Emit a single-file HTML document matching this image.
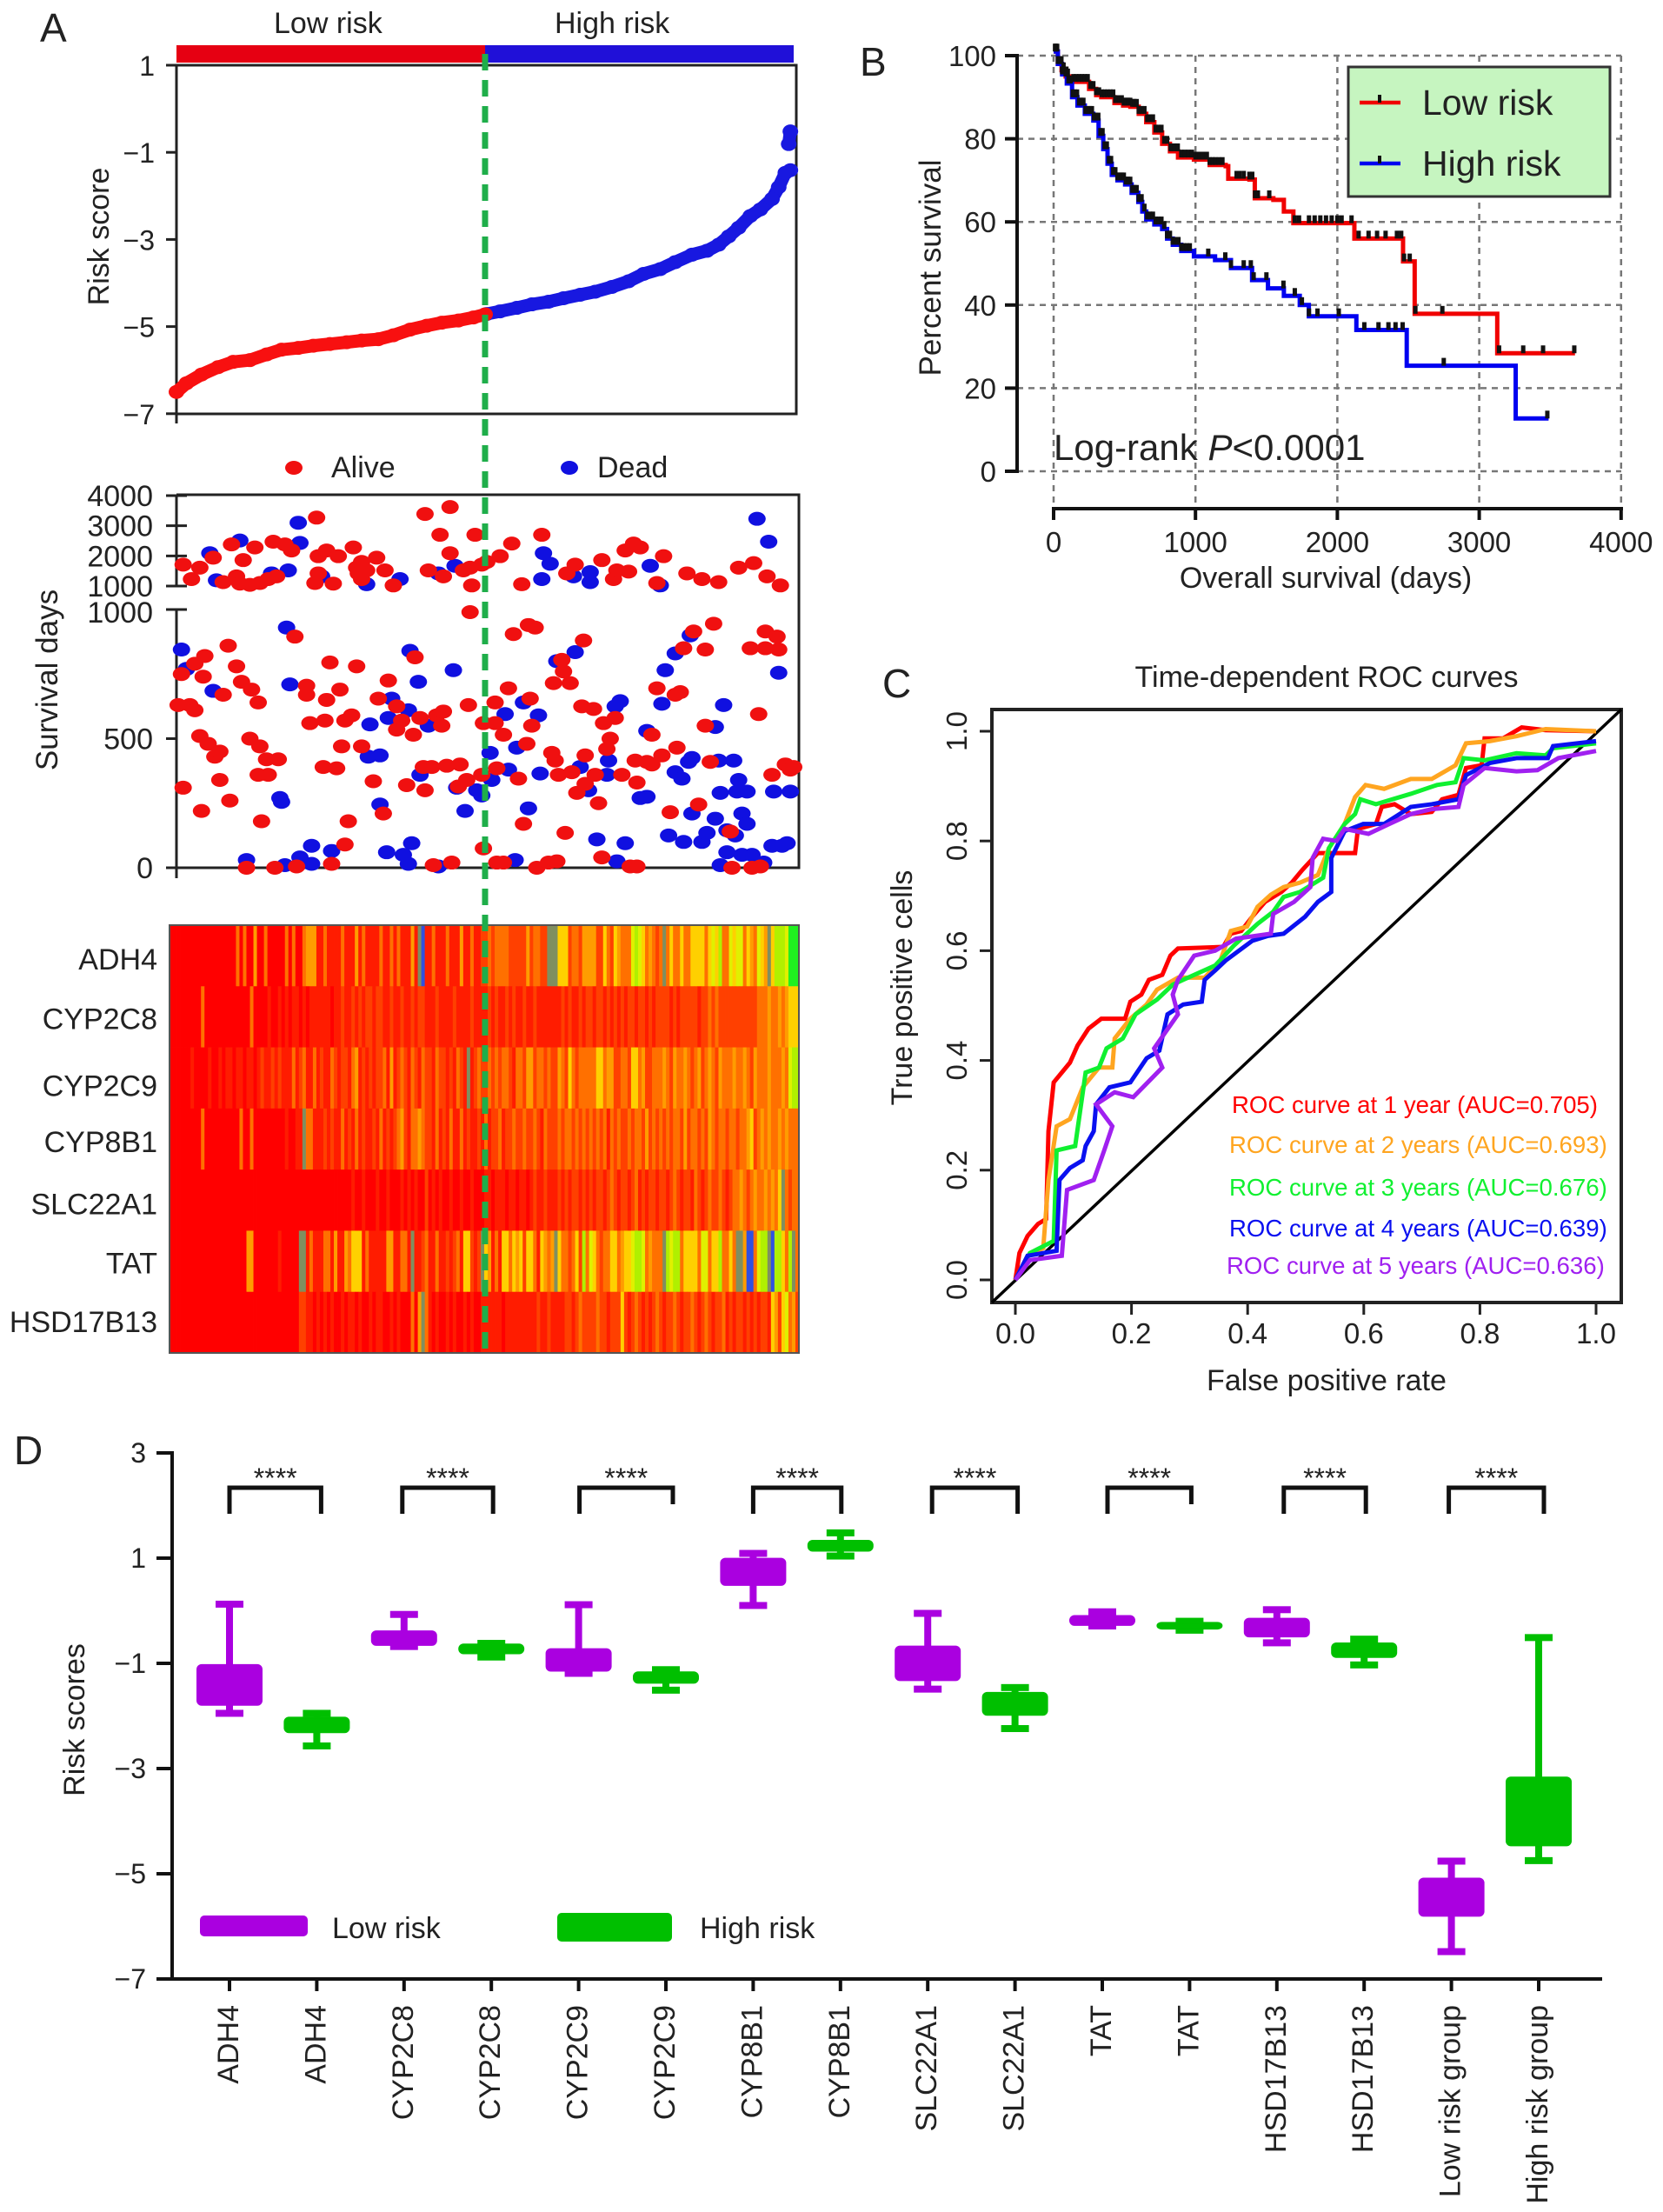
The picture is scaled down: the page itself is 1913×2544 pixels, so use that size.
<!DOCTYPE html>
<html lang="en">
<head>
<meta charset="utf-8">
<title>Risk model figure</title>
<style>
html,body{margin:0;padding:0;background:#fff;}
svg{display:block;}
text{font-family:"Liberation Sans",sans-serif;fill:#222;}
</style>
</head>
<body>
<svg id="figure" xmlns="http://www.w3.org/2000/svg" width="1913" height="2544" viewBox="0 0 1913 2544">
<rect x="0" y="0" width="1913" height="2544" fill="#fff"/>
<g id="panelA">
<text x="46" y="48" font-size="46">A</text>
<text x="315" y="38" font-size="34">Low risk</text>
<text x="638" y="38" font-size="34">High risk</text>
<rect x="203" y="52" width="355" height="20" fill="#e60012"/>
<rect x="558" y="52" width="355" height="20" fill="#2010d8"/>
<text transform="translate(125 272) rotate(-90)" text-anchor="middle" font-size="34">Risk score</text>
<text transform="translate(66 782) rotate(-90)" text-anchor="middle" font-size="35">Survival days</text>
<ellipse cx="338" cy="538" rx="10" ry="8" fill="#f01010"/>
<text x="381" y="549" font-size="34">Alive</text>
<ellipse cx="655" cy="538" rx="10" ry="8" fill="#1010e0"/>
<text x="687" y="549" font-size="34">Dead</text>
</g>
<g id="panelB">
<text x="989" y="87" font-size="46">B</text>
<text transform="translate(1082 308) rotate(-90)" text-anchor="middle" font-size="35">Percent survival</text>
<text x="1525" y="676" text-anchor="middle" font-size="34">Overall survival (days)</text>
</g>
<g id="panelC">
<text x="1015" y="802" font-size="46">C</text>
<text x="1526" y="790" text-anchor="middle" font-size="34">Time-dependent ROC curves</text>
<text x="1526" y="1599" text-anchor="middle" font-size="34">False positive rate</text>
<text transform="translate(1049 1136) rotate(-90)" text-anchor="middle" font-size="34">True positive cells</text>
</g>
<g id="panelD">
<text x="16" y="1684" font-size="46">D</text>
<text transform="translate(97 1978) rotate(-90)" text-anchor="middle" font-size="34">Risk scores</text>
<rect x="230" y="2203" width="124" height="24" rx="5" fill="#aa00e0"/>
<text x="382" y="2229" font-size="34">Low risk</text>
<rect x="641" y="2200" width="132" height="33" rx="5" fill="#00bf00"/>
<text x="805" y="2229" font-size="34">High risk</text>
</g>
</svg>
<script>
/* ---------- Panel A data ---------- */
const lowRiskRanks=[0,6,15,25,34,44,54,63,73,82,92,102,111,121,130,140,150,159,169,178,185];
const lowRiskScores=[-6.5,-6.3,-6.1,-5.93,-5.81,-5.77,-5.64,-5.53,-5.49,-5.44,-5.4,-5.36,-5.32,-5.29,-5.2,-5.07,-4.98,-4.91,-4.86,-4.79,-4.72];
const highRiskRanks=[186,194,204,213,223,232,242,251,261,271,280,290,299,309,318,325,331,337,344,350,357,361,365,368,367,368];
const highRiskScores=[-4.71,-4.65,-4.57,-4.49,-4.43,-4.35,-4.27,-4.2,-4.09,-3.96,-3.79,-3.68,-3.52,-3.35,-3.26,-3.12,-2.93,-2.73,-2.46,-2.31,-2.07,-1.8,-1.47,-1.41,-0.81,-0.52];
const riskTicks=[1,-1,-3,-5,-7];
const upperDayTicks=[4000,3000,2000,1000];
const lowerDayTicks=[1000,500,0];
const aliveRanks=[4,9,14,22,28,33,36,40,47,38,44,50,55,60,58,65,69,83,85,84,85,90,97,94,106,108,111,109,114,111,120,125,130,149,151,158,160,164,164,172,176,179,177,183,186,194,201,207,219,234,239,255,262,264,271,269,274,278,288,292,306,315,325,337,346,354,362,
1,3,4,11,8,11,17,16,14,19,15,23,26,26,28,31,32,36,39,44,45,49,50,49,55,51,54,61,71,78,78,80,88,89,90,92,96,98,99,101,105,108,111,118,121,127,132,132,135,138,142,143,146,149,148,153,156,160,159,162,170,169,175,174,176,183,184,191,191,196,192,199,202,205,208,210,211,215,213,212,226,225,227,229,231,232,236,233,237,240,243,244,245,245,250,251,253,256,260,258,263,267,276,275,282,285,285,288,291,296,299,302,300,304,310,313,317,317,320,322,332,349,344,353,353,360,361,357,365,368,370,
42,59,72,93,101,103,124,154,165,184,192,196,216,223,228,255,272,276,333,345,350];
const aliveDays=[1710,1230,1610,1940,1130,2380,1320,1860,2280,1080,1040,1100,1230,1320,2470,2380,2180,1100,1420,3270,1990,2180,1990,1080,2280,1610,1800,1420,1520,1230,1940,1520,1020,3390,1520,2700,1320,3620,2090,1520,1610,2700,1020,1710,1800,1990,2410,1060,2700,1420,1710,1860,1230,1520,1480,2180,2410,2280,1100,1990,1420,1230,1130,1610,1760,1320,1020,
630,750,310,790,630,610,820,740,510,480,220,430,450,340,670,860,260,780,720,500,690,640,470,360,360,180,420,420,895,705,670,560,390,570,650,795,385,690,470,570,590,780,470,335,655,725,625,535,570,320,515,815,580,300,390,390,590,605,550,395,400,315,630,340,990,360,560,640,560,515,385,695,905,345,170,480,940,930,550,655,715,445,415,360,805,760,715,135,370,290,625,880,435,325,615,360,250,560,500,460,580,360,330,415,410,515,400,695,435,215,670,680,465,850,915,245,845,550,410,945,140,595,850,850,915,895,845,360,400,380,390,
0,0,5,15,90,180,210,10,20,75,20,20,0,20,25,40,5,5,0,0,5];
const deadRanks=[20,24,38,57,67,73,74,87,114,134,157,167,220,224,219,238,248,248,284,290,348,355,
3,6,22,42,62,63,65,66,68,74,81,81,93,116,115,122,122,126,127,129,136,139,141,140,145,139,146,151,157,166,168,173,180,183,188,189,197,199,204,203,208,211,217,218,228,239,242,247,252,258,259,264,263,266,269,278,282,282,291,293,295,299,299,303,304,307,309,308,309,315,318,323,323,325,326,328,330,334,336,337,339,342,342,330,326,335,339,345,352,357,358,361,363,366,368];
const deadDays=[2090,1190,2510,1420,1520,3100,2430,1320,1060,1230,1420,1670,2090,1740,1230,1320,1460,1130,1670,1020,3230,2470,
845,770,685,30,270,255,10,930,710,40,15,85,65,555,430,435,245,60,580,655,50,15,95,840,720,610,360,550,5,765,310,220,300,280,445,340,595,380,465,30,640,230,590,365,800,835,390,300,110,360,415,25,625,645,95,270,530,275,635,765,125,370,830,345,100,410,425,900,210,100,135,545,190,415,290,630,145,415,295,340,210,170,295,60,10,125,50,50,20,85,295,755,85,95,295];
const heatGenes=["ADH4","CYP2C8","CYP2C9","CYP8B1","SLC22A1","TAT","HSD17B13"];
const adh4Levels=[0,0,0,0,0,0,0,0,0,0, 0,0,0,0,0,0,0,0,0,3, 0,3,0,0,4,0,0,3,0,0, 0,0,0,3,0,3,0,0,3,4, 4,4,1,1,3,1,1,1,1,3, 1,1,1,4,1,3,1,1,1,1, 3,1,1,3,1,3,1,1,1,4, 1,9,10,1,1,3,1,1,1,3, 1,1,1,4,1,1,3,1,1,2, 2,3,2,3,3,3,3,2,2,2, 2,2,4,2,3,3,2,2,9,9, 9,5,5,5,2,3,3,2,4,4, 4,4,2,2,5,3,2,5,4,3, 3,3,6,7,6,5,3,4,3,2, 3,9,3,5,3,3,5,3,3,5, 5,5,5,3,5,6,5,7,3,3, 6,5,6,6,3,5,4,3,6,5, 4,9,5,7,7,7,6,8,8,8];
const cyp2c8Levels=[0,0,0,0,0,0,0,0,0,3, 0,0,0,0,0,0,0,0,0,0, 0,0,0,3,0,0,0,0,1,0, 0,1,0,1,0,1,1,0,1,0, 1,1,1,1,1,1,0,1,1,2, 1,1,2,1,2,1,2,2,1,2, 2,1,1,2,1,1,2,1,1,2, 1,2,2,1,1,1,2,1,1,1, 1,2,1,1,1,1,2,1,1,1, 1,2,1,2,1,1,2,1,2,1, 1,2,1,1,2,1,1,1,1,1, 1,1,2,1,2,1,1,2,1,2, 2,1,2,2,1,2,1,2,1,2, 1,2,2,1,2,2,1,2,1,2, 2,2,2,1,2,1,2,2,2,2, 2,1,2,2,3,2,3,2,2,2, 2,2,2,2,2,2,2,2,3,3, 3,4,3,3,4,3,4,5,5,5];
const cyp2c9Levels=[0,0,0,0,0,0,1,0,0,0, 0,1,0,0,1,0,1,1,0,1, 1,0,1,1,0,1,2,1,1,2, 1,2,1,1,1,3,1,2,3,1, 1,3,1,2,1,1,3,2,1,2, 2,1,3,4,1,2,1,2,1,2, 2,3,1,4,1,2,3,2,1,3, 2,1,3,2,2,1,3,2,2,1, 2,1,3,2,1,9,1,2,3,2, 2,3,2,3,2,3,3,2,1,3, 3,2,4,4,2,3,3,2,3,2, 2,4,3,2,5,3,2,3,3,3, 3,3,5,5,3,4,4,2,2,3, 3,2,5,5,3,4,2,2,3,3, 3,4,3,2,4,3,3,4,3,2, 3,4,2,3,4,3,2,4,3,3, 3,4,3,3,4,3,2,4,3,3, 3,4,3,3,3,4,3,6,7,7];
const cyp8b1Levels=[0,0,0,0,0,0,0,0,0,3, 0,0,0,0,0,0,0,0,0,0, 3,0,0,3,0,0,0,0,0,0, 0,0,0,1,0,0,1,1,9,3, 3,1,1,1,2,1,2,1,1,3, 1,2,1,3,1,2,1,1,2,1, 3,1,2,1,2,3,4,2,1,3, 3,4,3,2,2,1,3,1,2,1, 3,1,1,3,1,2,1,1,2,1, 3,1,2,2,3,1,2,2,3,2, 2,3,2,2,3,2,1,3,2,2, 2,3,2,3,3,2,3,2,3,2, 3,2,3,2,3,1,3,2,3,2, 2,3,2,3,3,2,4,2,3,2, 3,2,3,2,3,3,2,4,2,3, 3,2,3,2,4,3,2,3,3,2, 3,3,2,3,3,4,5,2,3,4, 3,4,3,3,4,3,4,3,3,3];
const slc22a1Levels=[0,0,0,0,0,0,0,0,0,0, 0,0,0,0,0,0,0,0,0,0, 0,0,0,0,0,0,0,0,0,0, 0,0,0,0,0,0,0,0,0,0, 0,0,0,0,0,0,0,0,0,0, 0,0,1,0,0,1,0,0,0,1, 0,0,1,0,0,0,1,0,1,0, 1,0,0,2,0,1,0,1,0,0, 1,0,0,1,0,0,1,0,0,0, 1,1,0,1,1,1,0,1,1,0, 1,1,0,1,2,1,1,2,1,1, 1,2,1,2,1,2,2,1,2,1, 2,1,2,2,1,2,3,2,1,2, 2,1,2,3,1,2,1,2,2,1, 2,2,1,2,3,2,1,2,2,1, 3,2,1,2,3,2,2,3,2,1, 2,3,3,4,3,2,3,4,3,3, 4,3,4,3,5,9,3,2,3,3];
const tatLevels=[0,0,0,0,0,0,0,0,0,0, 0,0,0,0,0,0,0,0,0,0, 0,0,4,4,0,0,0,0,0,0, 0,1,0,0,0,0,0,9,9,1, 3,1,1,1,3,3,1,4,1,1, 4,3,5,5,5,1,3,1,1,1, 1,1,4,4,1,1,3,3,1,9, 1,1,2,3,1,1,3,1,1,2, 1,2,3,1,5,5,2,1,2,9, 5,4,1,3,1,5,5,3,5,4, 5,2,5,5,3,1,5,4,3,4, 9,5,3,3,2,3,5,2,7,3, 6,5,3,2,3,3,5,5,3,4, 5,5,6,7,7,6,3,4,3,3, 3,9,7,6,7,7,3,5,5,5, 5,3,6,6,3,5,5,7,3,3, 5,3,9,9,4,10,10,3,6,7, 7,9,10,7,7,5,3,7,9,3];
const hsd17b13Levels=[0,0,0,0,0,0,0,0,0,0, 0,0,0,0,0,0,0,0,0,0, 0,0,0,0,0,0,0,0,0,0, 0,0,0,0,0,0,0,2,2,1, 1,0,1,0,1,0,1,0,0,1, 0,1,1,0,1,0,0,1,0,1, 1,0,0,1,0,1,0,0,0,3, 0,4,9,3,1,0,1,0,0,1, 0,1,0,0,1,0,1,0,0,1, 1,1,1,1,1,0,1,1,1,1, 1,1,1,1,1,2,1,1,2,1, 1,1,1,2,2,1,2,3,2,2, 2,2,3,2,2,1,2,2,2,5, 2,1,2,3,2,1,2,1,2,3, 2,1,2,2,3,2,1,2,2,3, 2,1,2,3,2,1,2,2,3,1, 2,1,2,2,1,2,1,2,1,2, 2,1,5,4,2,5,6,3,4,2];
const heatMatrix=[adh4Levels,cyp2c8Levels,cyp2c9Levels,cyp8b1Levels,slc22a1Levels,tatLevels,hsd17b13Levels];
const heatPalette=["#ff0000","#ff1c00","#ff4000","#ff7000","#ff9c00","#ffd000","#e0f000","#b0f000","#20f020","#7f8f60","#3050e0"];

/* ---------- Panel B data ---------- */
const lowSurvDays=[0,30,56,85,112,205,250,300,336,429,490,541,600,653,710,765,820,877,989,1100,1213,1231,1380,1418,1549,1623,1690,2120,2463,2545,3127,3675];
const lowSurvPct=[101,98,96.5,95,93.7,93.7,92,90.5,90,88.6,88,87.7,86,84,81.5,78.8,77,75.5,75,73.7,73.4,70.4,70.2,65.7,65.3,62.5,59.7,56,50.5,37.9,28.4,28.4];
const highSurvDays=[0,30,60,93,130,168,220,280,317,350,380,410,450,504,550,597,625,653,710,765,800,840,900,989,1138,1250,1399,1511,1623,1735,1799,2134,2489,3257,3489];
const highSurvPct=[101,98,95.5,93.3,90,88,86,84.4,80.7,77.5,74,71.3,70,69,67,64.8,62.5,60.6,59.4,58.3,56,54.5,53,51.7,50.8,48.9,46,44,42.2,40,37.3,34,25.4,12.7,12.7];
const lowCensorDays=[10,25,40,55,70,85,100,140,160,180,200,220,240,260,280,300,320,340,360,380,400,420,435,450,465,480,495,510,525,540,555,570,585,600,620,640,660,680,700,720,740,760,780,800,825,850,875,900,925,950,975,1000,1015,1030,1045,1060,1080,1100,1120,1140,1165,1190,1290,1310,1340,1380,1400,1420,1440,1520,1700,1730,1800,1840,1880,1920,1960,2000,2030,2100,2150,2220,2280,2340,2420,2450,2470,2510,2550,2740,3140,3310,3450,3670];
const highCensorDays=[15,30,45,60,75,90,105,120,135,150,165,180,195,210,225,240,255,270,285,300,315,330,345,360,375,390,405,420,435,450,465,480,495,510,525,540,555,570,585,600,620,640,660,680,700,720,740,760,780,800,820,840,860,880,900,920,940,960,1090,1210,1250,1340,1390,1410,1500,1620,1700,1750,1800,1860,2010,2190,2290,2360,2410,2460,2750,3480];
const survXTicks=[0,1000,2000,3000,4000];
const survYTicks=[100,80,60,40,20,0];

/* ---------- Panel C data ---------- */
const rocTicks=["0.0","0.2","0.4","0.6","0.8","1.0"];
const roc1Fpr=[0,.007,.021,.039,.053,.057,.066,.08,.094,.107,.126,.148,.189,.198,.217,.23,.253,.267,.28,.358,.371,.389,.408,.43,.458,.476,.494,.521,.553,.585,.59,.621,.631,.653,.681,.717,.735,.763,.776,.803,.808,.84,.872,.913,1];
const roc1Tpr=[0,.049,.08,.102,.111,.271,.36,.378,.396,.427,.458,.476,.476,.507,.52,.547,.556,.591,.604,.607,.631,.636,.662,.689,.707,.724,.747,.778,.778,.778,.822,.831,.862,.867,.849,.853,.876,.884,.933,.938,.987,.987,1.007,1.002,1];
const roc2Fpr=[0,.021,.048,.057,.071,.094,.116,.144,.167,.171,.198,.226,.244,.28,.326,.353,.371,.399,.417,.44,.462,.49,.521,.54,.567,.585,.603,.635,.681,.717,.758,.776,.817,.863,.913,1];
const roc2Tpr=[0,.044,.058,.182,.28,.293,.351,.387,.387,.44,.476,.502,.529,.551,.551,.582,.636,.644,.68,.702,.716,.724,.738,.787,.831,.88,.902,.895,.913,.913,.938,.978,.982,.991,1.004,1];
const roc3Fpr=[0,.025,.066,.071,.103,.121,.144,.157,.185,.207,.244,.271,.289,.344,.376,.417,.444,.462,.49,.53,.54,.567,.585,.594,.621,.681,.726,.758,.772,.808,.863,.913,.926,1];
const roc3Tpr=[0,.049,.071,.236,.244,.378,.387,.422,.44,.484,.511,.538,.547,.573,.609,.649,.671,.698,.707,.733,.787,.831,.849,.876,.867,.886,.902,.907,.951,.947,.96,.956,.969,.978];
const roc4Fpr=[0,.021,.071,.076,.094,.116,.121,.135,.139,.162,.198,.226,.248,.262,.289,.321,.326,.344,.362,.385,.408,.435,.462,.499,.521,.544,.544,.567,.599,.635,.681,.717,.763,.776,.817,.863,.917,.926,1];
const roc4Tpr=[0,.044,.053,.182,.204,.218,.244,.271,.32,.351,.36,.404,.418,.484,.502,.507,.547,.564,.582,.6,.618,.627,.631,.662,.689,.707,.769,.818,.831,.831,.862,.867,.876,.92,.942,.951,.951,.973,.982];
const roc5Fpr=[0,.025,.08,.089,.135,.153,.167,.139,.171,.203,.253,.239,.28,.271,.28,.308,.344,.38,.44,.444,.48,.508,.512,.53,.553,.567,.608,.644,.681,.717,.763,.772,.808,.863,.899,.935,1];
const roc5Tpr=[0,.036,.044,.164,.182,.236,.28,.32,.342,.333,.387,.422,.484,.52,.547,.591,.6,.622,.631,.667,.689,.716,.769,.804,.8,.822,.813,.831,.849,.858,.862,.902,.933,.927,.929,.951,.964];
const rocLegendLabels=["ROC curve at 1 year (AUC=0.705)","ROC curve at 2 years (AUC=0.693)","ROC curve at 3 years (AUC=0.676)","ROC curve at 4 years (AUC=0.639)","ROC curve at 5 years (AUC=0.636)"];

/* ---------- Panel D data ---------- */
const boxCategories=["ADH4","ADH4","CYP2C8","CYP2C8","CYP2C9","CYP2C9","CYP8B1","CYP8B1","SLC22A1","SLC22A1","TAT","TAT","HSD17B13","HSD17B13","Low risk group","High risk group"];
const boxWhiskerHigh=[.125,-1.95,-.07,-.62,.115,-1.12,1.09,1.48,-.05,-1.46,-.02,-.2,.02,-.54,-4.76,-.51];
const boxQ3=[-1.03,-2.03,-.39,-.64,-.73,-1.17,.99,1.33,-.68,-1.56,-.1,-.23,-.15,-.62,-5.09,-3.17];
const boxQ1=[-1.79,-2.31,-.65,-.81,-1.14,-1.37,.49,1.14,-1.32,-1.98,-.27,-.34,-.49,-.88,-5.8,-4.46];
const boxWhiskerLow=[-1.95,-2.57,-.68,-.88,-1.19,-1.51,.1,1.04,-1.49,-2.24,-.29,-.37,-.61,-1.03,-6.48,-4.75];
const boxYTicks=[3,1,-1,-3,-5,-7];

/* ---------- helpers ---------- */
const NS="http://www.w3.org/2000/svg";
const fig=document.getElementById("figure");
function make(tag,attrs,parent){
  const el=document.createElementNS(NS,tag);
  for(const k in attrs){el.setAttribute(k,attrs[k]);}
  (parent||fig).appendChild(el);
  return el;
}
function fmt(v){return v<0?"\u2212"+Math.abs(v):String(v);}
const panelA=document.getElementById("panelA");
const panelB=document.getElementById("panelB");
const panelC=document.getElementById("panelC");
const panelD=document.getElementById("panelD");

/* ---------- Panel A ---------- */
const rankX=r=>203+r*1.919;
const riskY=v=>75+(1-v)*50.1;
const dayY=d=>d>1000?674-(d-1000)*0.03467:998-d*0.297;
const dotRed="#f01010";
const dotBlue="#1010e0";

const riskFrame=make("rect",{x:203,y:75,width:713,height:401,fill:"none",stroke:"#222","stroke-width":3},panelA);


riskTicks.forEach(v=>{
  const t=make("line",{x1:191,x2:203,y1:riskY(v),y2:riskY(v),stroke:"#222","stroke-width":3},panelA);
  
  
  const l=make("text",{x:178,y:riskY(v)+12,"text-anchor":"end","font-size":32},panelA);
  l.textContent=fmt(v);
  
  
});
const riskXTick=make("line",{x1:203,x2:203,y1:476,y2:487,stroke:"#222","stroke-width":3},panelA);



function riskSeries(ranks,scores,color,name){
  let pts=[];
  const flush=()=>{
    if(pts.length>1){
      const pl=make("polyline",{points:pts.join(" "),fill:"none",stroke:color,"stroke-width":15,"stroke-linejoin":"round","stroke-linecap":"round"},panelA);
      
      
    }
    pts=[];
  };
  ranks.forEach((r,i)=>{
    if(i>0&&scores[i]-scores[i-1]>0.4){flush();}
    pts.push(rankX(r)+","+riskY(scores[i]));
  });
  flush();
  ranks.forEach((r,i)=>{
    const d=make("ellipse",{cx:rankX(r),cy:riskY(scores[i]),rx:9,ry:8,fill:color},panelA);
    
    
  });
}
riskSeries(highRiskRanks,highRiskScores,"#1818e0","high-risk-score");
riskSeries(lowRiskRanks,lowRiskScores,"#f81010","low-risk-score");

const survFrame=make("path",{d:"M203 569H919V998H203M203 570V674M203 701V998",fill:"none",stroke:"#222","stroke-width":3},panelA);


upperDayTicks.forEach(v=>{
  const y=dayY(v===1000?1000.01:v);
  const t=make("line",{x1:191,x2:215,y1:y,y2:y,stroke:"#222","stroke-width":3},panelA);
  
  
  const l=make("text",{x:176,y:y+12,"text-anchor":"end","font-size":34},panelA);
  l.textContent=v;
  
  
});
lowerDayTicks.forEach(v=>{
  const y=dayY(v);
  const t=make("line",{x1:191,x2:v===1000?215:203,y1:y,y2:y,stroke:"#222","stroke-width":3},panelA);
  
  
  const l=make("text",{x:176,y:y+(v===1000?15:12),"text-anchor":"end","font-size":34},panelA);
  l.textContent=v;
  
  
});
const survXTickMark=make("line",{x1:203,x2:203,y1:998,y2:1010,stroke:"#222","stroke-width":3},panelA);



deadRanks.forEach((r,i)=>{
  const d=make("ellipse",{cx:rankX(r),cy:dayY(deadDays[i]),rx:10,ry:8,fill:dotBlue},panelA);
  
  
});
aliveRanks.forEach((r,i)=>{
  const d=make("ellipse",{cx:rankX(r),cy:dayY(aliveDays[i]),rx:10,ry:8,fill:dotRed},panelA);
  
  
});

const heatLeft=195,heatRight=919,heatTop=1064,heatBottom=1556;
const heatRowH=(heatBottom-heatTop)/heatGenes.length;
heatGenes.forEach((gene,row)=>{
  const levels=heatMatrix[row];
  const cw=(heatRight-heatLeft)/levels.length;
  levels.forEach((lv,c)=>{
    const cell=make("rect",{x:heatLeft+c*cw,y:heatTop+row*heatRowH,width:cw+0.4,height:heatRowH+0.4,fill:heatPalette[lv]},panelA);
    
    
  });
  const lab=make("text",{x:181,y:heatTop+row*heatRowH+heatRowH/2+[4,2,9,3,4,2,-1][row]+12,"text-anchor":"end","font-size":34},panelA);
  lab.textContent=gene;
  
  
});
const heatFrame=make("rect",{x:heatLeft,y:heatTop,width:heatRight-heatLeft,height:heatBottom-heatTop,fill:"none",stroke:"#555","stroke-width":2},panelA);



const cutoff=make("line",{x1:558,x2:558,y1:62,y2:1556,stroke:"#1fae4a","stroke-width":7,"stroke-dasharray":"19 11"},panelA);



/* ---------- Panel B ---------- */
const survX=d=>1212+d*0.1632;
const survY=p=>542-p*4.78;
survYTicks.forEach(v=>{
  const g=make("line",{x1:1170,x2:1865,y1:survY(v),y2:survY(v),stroke:"#777","stroke-width":2.5,"stroke-dasharray":"7 6"},panelB);
  
  
  const t=make("line",{x1:1156,x2:1170,y1:survY(v),y2:survY(v),stroke:"#111","stroke-width":4},panelB);
  
  
  const l=make("text",{x:1146,y:survY(v)+12,"text-anchor":"end","font-size":33},panelB);
  l.textContent=v;
  
  
});
survXTicks.forEach(v=>{
  const g=make("line",{x1:survX(v),x2:survX(v),y1:64,y2:585,stroke:"#777","stroke-width":2.5,"stroke-dasharray":"7 6"},panelB);
  
  
  const t=make("line",{x1:survX(v),x2:survX(v),y1:585,y2:598,stroke:"#111","stroke-width":4},panelB);
  
  
  const l=make("text",{x:survX(v),y:635,"text-anchor":"middle","font-size":33},panelB);
  l.textContent=v;
  
  
});
const survYAxis=make("line",{x1:1170,x2:1170,y1:62,y2:544,stroke:"#111","stroke-width":4},panelB);


const survXAxis=make("line",{x1:1210,x2:1867,y1:585,y2:585,stroke:"#111","stroke-width":4},panelB);



function stepPath(days,pct){
  let d="M"+survX(days[0])+" "+survY(pct[0]);
  for(let i=1;i<days.length;i++){d+="H"+survX(days[i])+"V"+survY(pct[i]);}
  return d;
}
function pctAt(days,pct,day){
  let p=pct[0];
  for(let i=0;i<days.length;i++){if(days[i]<=day){p=pct[i];}}
  return p;
}
const lowCurve=make("path",{d:stepPath(lowSurvDays,lowSurvPct),fill:"none",stroke:"#f00000","stroke-width":5},panelB);


const highCurve=make("path",{d:stepPath(highSurvDays,highSurvPct),fill:"none",stroke:"#0000f0","stroke-width":5},panelB);


lowCensorDays.forEach(d=>{
  const y=survY(pctAt(lowSurvDays,lowSurvPct,d));
  const c=make("line",{x1:survX(d),x2:survX(d),y1:y-9,y2:y,stroke:"#111","stroke-width":5},panelB);
  
  
});
highCensorDays.forEach(d=>{
  const y=survY(pctAt(highSurvDays,highSurvPct,d));
  const c=make("line",{x1:survX(d),x2:survX(d),y1:y-9,y2:y,stroke:"#111","stroke-width":5},panelB);
  
  
});
const survLegendBox=make("rect",{x:1551,y:77,width:301,height:149,fill:"#c6f5c0",stroke:"#333","stroke-width":3},panelB);


const survLegendLow=make("line",{x1:1564,x2:1611,y1:118,y2:118,stroke:"#f00000","stroke-width":4.5},panelB);


const survLegendLowTick=make("line",{x1:1587,x2:1587,y1:109,y2:118,stroke:"#111","stroke-width":4},panelB);


const survLegendLowText=make("text",{x:1636,y:132,"font-size":41},panelB);
survLegendLowText.textContent="Low risk";


const survLegendHigh=make("line",{x1:1564,x2:1611,y1:188,y2:188,stroke:"#0000f0","stroke-width":4.5},panelB);


const survLegendHighTick=make("line",{x1:1587,x2:1587,y1:179,y2:188,stroke:"#111","stroke-width":4},panelB);


const survLegendHighText=make("text",{x:1636,y:202,"font-size":41},panelB);
survLegendHighText.textContent="High risk";


const logRank=make("text",{x:1212,y:529,"font-size":42},panelB);
logRank.appendChild(document.createTextNode("Log-rank "));
const logRankP=make("tspan",{"font-style":"italic"},logRank);
logRankP.textContent="P";
logRank.appendChild(document.createTextNode("<0.0001"));



/* ---------- Panel C ---------- */
const rocX=f=>1168+f*668;
const rocY=t=>1472-t*631;
const rocFrame=make("rect",{x:1141,y:816,width:724,height:682,fill:"none",stroke:"#222","stroke-width":4},panelC);


rocTicks.forEach(s=>{
  const v=parseFloat(s);
  const tx=make("line",{x1:rocX(v),x2:rocX(v),y1:1498,y2:1512,stroke:"#222","stroke-width":3},panelC);
  
  
  const lx=make("text",{x:rocX(v),y:1545,"text-anchor":"middle","font-size":33},panelC);
  lx.textContent=s;
  
  
  const ty=make("line",{x1:1127,x2:1141,y1:rocY(v),y2:rocY(v),stroke:"#222","stroke-width":3},panelC);
  
  
  const ly=make("text",{transform:"translate(1112 "+rocY(v)+") rotate(-90)","text-anchor":"middle","font-size":33},panelC);
  ly.textContent=s;
  
  
});
const rocDiagonal=make("line",{x1:1141,y1:1498,x2:1865,y2:816,stroke:"#000","stroke-width":3.5},panelC);


const rocColors=["#ff0000","#ffa520","#10f030","#0a10f0","#a020f0"];
const rocFprs=[roc1Fpr,roc2Fpr,roc3Fpr,roc4Fpr,roc5Fpr];
const rocTprs=[roc1Tpr,roc2Tpr,roc3Tpr,roc4Tpr,roc5Tpr];
rocFprs.forEach((fprs,k)=>{
  const pts=fprs.map((f,i)=>rocX(f)+","+rocY(rocTprs[k][i])).join(" ");
  const pl=make("polyline",{points:pts,fill:"none",stroke:rocColors[k],"stroke-width":5,"stroke-linejoin":"miter"},panelC);
  
  
});
const rocLegendRows=[[1417,1280],[1414,1326],[1414,1375],[1414,1422],[1411,1465]];
rocLegendLabels.forEach((s,k)=>{
  const t=make("text",{x:rocLegendRows[k][0],y:rocLegendRows[k][1],"font-size":27.6,style:"fill:"+rocColors[k]},panelC);
  t.textContent=s;
  
  
});

/* ---------- Panel D ---------- */
const boxX=i=>264+i*100.4;
const boxY=v=>1671+(3-v)*60.5;
const axisD=make("path",{d:"M198 1669V2276H1843",fill:"none",stroke:"#111","stroke-width":4},panelD);


boxYTicks.forEach(v=>{
  const t=make("line",{x1:180,x2:198,y1:boxY(v),y2:boxY(v),stroke:"#111","stroke-width":4},panelD);
  
  
  const l=make("text",{x:168,y:boxY(v)+11,"text-anchor":"end","font-size":32},panelD);
  l.textContent=fmt(v);
  
  
});
boxCategories.forEach((cat,i)=>{
  const x=boxX(i);
  const color=i%2===0?"#aa00e0":"#00bf00";
  const tick=make("line",{x1:x,x2:x,y1:2276,y2:2290,stroke:"#111","stroke-width":4},panelD);
  
  
  const lab=make("text",{transform:"translate("+(x+10)+" 2306) rotate(-90)","text-anchor":"end","font-size":34},panelD);
  lab.textContent=cat;
  
  
  const wh=make("line",{x1:x,x2:x,y1:boxY(boxWhiskerHigh[i]),y2:boxY(boxWhiskerLow[i]),stroke:color,"stroke-width":8},panelD);
  
  
  const capT=make("rect",{x:x-16,y:boxY(boxWhiskerHigh[i])-4,width:32,height:8,fill:color},panelD);
  
  
  const capB=make("rect",{x:x-16,y:boxY(boxWhiskerLow[i])-4,width:32,height:8,fill:color},panelD);
  
  
  const box=make("rect",{x:x-37,y:boxY(boxQ3[i]),width:74,height:boxY(boxQ1[i])-boxY(boxQ3[i]),rx:5,fill:color,stroke:color,"stroke-width":2},panelD);
  
  
});
const bracketPairs=[[0,1],[2,3],[4,5],[6,7],[8,9],[10,11],[12,13],[14,15]];
const bracketShort=[false,false,true,false,false,true,false,false];
bracketPairs.forEach((p,k)=>{
  const x1=boxX(p[0])+[0,-2,1,0,5,6,8,-3][k];
  const x2=boxX(p[1])+[5,2,8,1,3,2,2,6][k];
  const br=make("path",{d:"M"+x1+" 1741V1711H"+x2+"V"+(bracketShort[k]?1730:1741),fill:"none",stroke:"#111","stroke-width":5},panelD);
  
  
  const st=make("text",{x:(x1+x2)/2,y:1711,"text-anchor":"middle","font-size":32},panelD);
  st.textContent="****";
  
  
});
</script>
</body>
</html>
